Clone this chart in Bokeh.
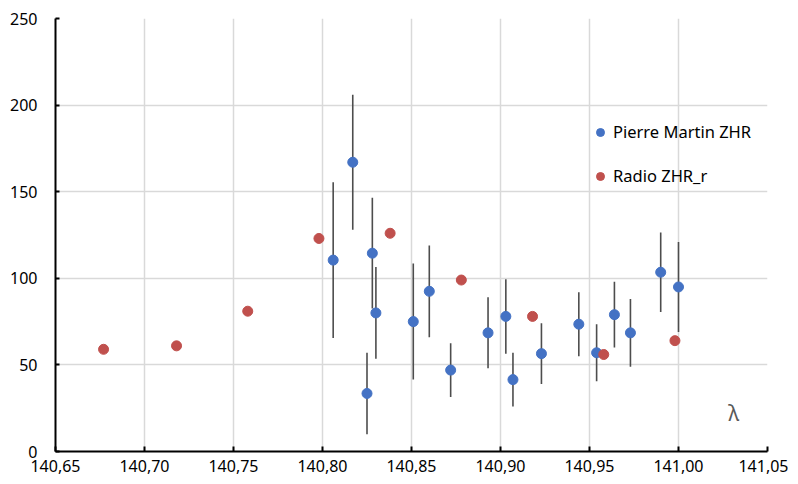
from bokeh.plotting import figure
from bokeh.models import (Range1d, FixedTicker, CustomJSTickFormatter, Legend,
                          LegendItem, Label, ColumnDataSource)
from bokeh.embed import file_html
from bokeh.resources import INLINE

# Pierre Martin ZHR (with error bars)
pm_lambda = [140.806, 140.817, 140.825, 140.828, 140.830, 140.851, 140.860, 140.872,
             140.893, 140.903, 140.907, 140.923, 140.944, 140.954, 140.964, 140.973,
             140.990, 141.000]
pm_zhr = [110.5, 167, 33.5, 114.5, 80, 75, 92.5, 47, 68.5, 78, 41.5, 56.5, 73.5, 57,
          79, 68.5, 103.5, 95]
pm_err = [45, 39, 23.5, 32, 26.5, 33.5, 26.5, 15.5, 20.5, 21.5, 15.5, 17.5, 18.5, 16.5,
          19, 19.5, 23, 26]

# Radio ZHR_r
radio_lambda = [140.677, 140.718, 140.758, 140.798, 140.838, 140.878, 140.918, 140.958, 140.998]
radio_zhr = [59, 61, 81, 123, 126, 99, 78, 56, 64]

x_ticks = [140.65, 140.70, 140.75, 140.80, 140.85, 140.90, 140.95, 141.00, 141.05]
y_ticks = [0, 50, 100, 150, 200, 250]

FONT = "Noto Sans"

p = figure(width=788, height=477, output_backend="svg", toolbar_location=None,
           x_range=Range1d(140.65, 141.05), y_range=Range1d(0, 250),
           min_border_left=55, min_border_right=21, min_border_top=18, min_border_bottom=26)
p.outline_line_color = None

pm_src = ColumnDataSource(dict(x=pm_lambda, y=pm_zhr,
                               lo=[v - e for v, e in zip(pm_zhr, pm_err)],
                               hi=[v + e for v, e in zip(pm_zhr, pm_err)]))
rd_src = ColumnDataSource(dict(x=radio_lambda, y=radio_zhr))

p.segment(x0="x", y0="lo", x1="x", y1="hi", source=pm_src, line_color="#4d4d4d", line_width=1.6)
r_pm = p.scatter("x", "y", source=pm_src, size=10, fill_color="#4472C4", line_color="#4472C4")
r_rd = p.scatter("x", "y", source=rd_src, size=10, fill_color="#C0504D", line_color="#C0504D")

# axes
p.xaxis.ticker = FixedTicker(ticks=x_ticks)
p.yaxis.ticker = FixedTicker(ticks=y_ticks)
p.xaxis.formatter = CustomJSTickFormatter(code="return tick.toFixed(2).replace('.', ',');")
p.yaxis.formatter = CustomJSTickFormatter(code="return tick.toFixed(0);")
for ax in (p.xaxis, p.yaxis):
    ax.axis_line_color = "black"
    ax.axis_line_width = 2
    ax.major_tick_line_color = "black"
    ax.major_tick_line_width = 2
    ax.minor_tick_line_color = None
    ax.major_label_text_font = FONT
    ax.major_label_text_font_size = "16px"
    ax.major_label_text_color = "black"
p.xaxis.major_tick_in = 5
p.xaxis.major_tick_out = 0
p.yaxis.major_tick_in = 4
p.yaxis.major_tick_out = 0
p.xaxis.major_label_standoff = 8
p.yaxis.major_label_standoff = 18

p.xgrid.ticker = FixedTicker(ticks=x_ticks)
p.ygrid.ticker = FixedTicker(ticks=y_ticks)
p.grid.grid_line_color = "#d9d9d9"
p.grid.grid_line_width = 1.5

legend = Legend(items=[LegendItem(label="Pierre Martin ZHR", renderers=[r_pm]),
                       LegendItem(label="Radio ZHR_r", renderers=[r_rd])],
                location=(535, 264))
legend.background_fill_alpha = 0
legend.border_line_color = None
legend.padding = 10
legend.glyph_width = 20
legend.glyph_height = 20
legend.label_height = 20
legend.spacing = 21
legend.label_standoff = 3
legend.label_text_font = FONT
legend.label_text_font_size = "16.5px"
legend.label_text_color = "black"
p.add_layout(legend, "center")

lam = Label(x=141.031, y=22, text="λ", text_font=FONT, text_font_size="21px",
            text_color="#595959", text_align="center", text_baseline="middle")
p.add_layout(lam)

open("out.html", "w").write(file_html(p, INLINE))
